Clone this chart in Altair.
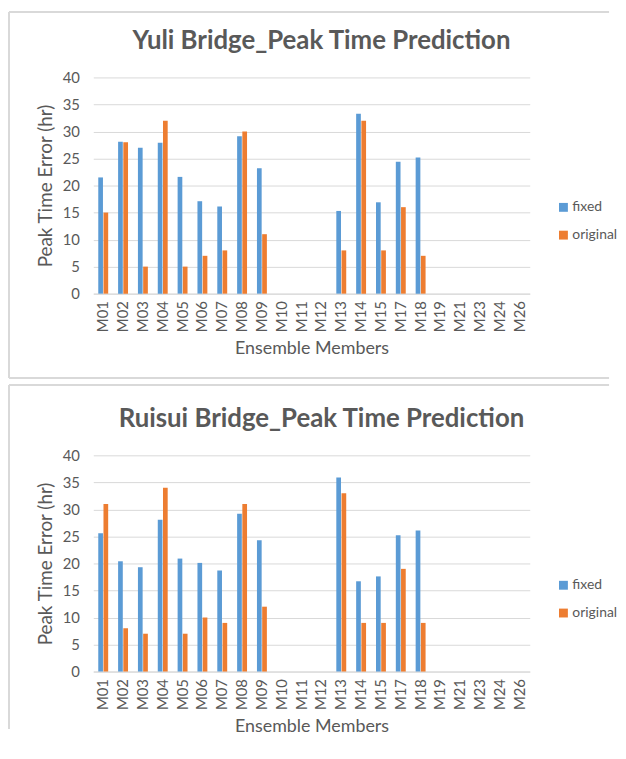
import altair as alt
import pandas as pd

members = ["M01", "M02", "M03", "M04", "M05", "M06", "M07", "M08", "M09", "M10",
           "M11", "M12", "M13", "M14", "M15", "M17", "M18", "M19", "M21", "M23",
           "M24", "M26"]
series = ["fixed", "original"]
colors = ["#5B9BD5", "#ED7D31"]
y_ticks = [0, 5, 10, 15, 20, 25, 30, 35, 40]

yuli_fixed = [21.5, 28.1, 27.0, 27.9, 21.6, 17.1, 16.1, 29.1, 23.2, None,
              None, None, 15.3, 33.3, 16.9, 24.4, 25.2, None, None, None,
              None, None]
yuli_original = [15, 28, 5, 32, 5, 7, 8, 30, 11, None,
                 None, None, 8, 32, 8, 16, 7, None, None, None,
                 None, None]
ruisui_fixed = [25.6, 20.4, 19.3, 28.1, 20.9, 20.1, 18.7, 29.2, 24.3, None,
                None, None, 35.9, 16.7, 17.6, 25.2, 26.1, None, None, None,
                None, None]
ruisui_original = [31, 8, 7, 34, 7, 10, 9, 31, 12, None,
                   None, None, 33, 9, 9, 19, 9, None, None, None,
                   None, None]

FONT = "Lato"
TXT = "#595959"
FRAME = "#D9D9D9"


def panel(title, fixed, original, frame_top, frame_bottom):
    df = pd.DataFrame({
        "member": members * 2,
        "series": [series[0]] * len(members) + [series[1]] * len(members),
        "value": fixed + original,
    })
    bars = alt.Chart(df).mark_bar().encode(
        x=alt.X("member:N", sort=members,
                scale=alt.Scale(domain=members, paddingInner=0.5, paddingOuter=0.25),
                axis=alt.Axis(title="Ensemble Members", labelAngle=-90, labelAlign="right",
                              labelBaseline="middle", labelPadding=7, ticks=False,
                              domain=True, domainColor=FRAME, labelFont=FONT,
                              labelFontSize=15, labelColor=TXT, titleFont=FONT,
                              titleFontSize=18, titleFontWeight="normal",
                              titleColor=TXT, titlePadding=8)),
        xOffset=alt.XOffset("series:N", scale=alt.Scale(domain=series, paddingInner=0.1)),
        y=alt.Y("value:Q", scale=alt.Scale(domain=[0, 40]),
                axis=alt.Axis(title="Peak Time Error (hr)", values=y_ticks, ticks=False,
                              domain=False, grid=True, gridColor=FRAME, labelFont=FONT,
                              labelFontSize=15, labelColor=TXT, labelPadding=14,
                              titleFont=FONT, titleFontSize=19, titleFontWeight="normal",
                              titleColor=TXT, titlePadding=7)),
        color=alt.Color("series:N", scale=alt.Scale(domain=series, range=colors),
                        legend=alt.Legend(title=None, orient="none", legendX=467,
                                          legendY=124, symbolType="square",
                                          symbolSize=80, symbolStrokeWidth=0,
                                          labelFont=FONT, labelFontSize=14,
                                          labelColor=TXT, rowPadding=14,
                                          labelOffset=2, padding=0)),
    )
    fdf = pd.DataFrame({"k": [0]})
    heading = alt.Chart(fdf).mark_text(
        text=title, font=FONT, fontSize=26, fontWeight="bold", color=TXT,
        align="center", baseline="middle",
    ).encode(x=alt.value(230), y=alt.value(-37))
    top = alt.Chart(fdf).mark_rule(color=FRAME, strokeWidth=2).encode(
        x=alt.value(-85), x2=alt.value(520), y=alt.value(frame_top))
    left = alt.Chart(fdf).mark_rule(color=FRAME, strokeWidth=2).encode(
        x=alt.value(-85), y=alt.value(frame_top), y2=alt.value(303 if frame_bottom else 276))
    layers = [bars, heading, top, left]
    if frame_bottom:
        bottom = alt.Chart(fdf).mark_rule(color=FRAME, strokeWidth=2).encode(
            x=alt.value(-85), x2=alt.value(520), y=alt.value(303))
        layers.append(bottom)
    return alt.layer(*layers).properties(width=440, height=218)


chart = alt.vconcat(
    panel("Yuli Bridge_Peak Time Prediction", yuli_fixed, yuli_original, -66, True),
    panel("Ruisui Bridge_Peak Time Prediction", ruisui_fixed, ruisui_original, -71, False),
    spacing=5,
).resolve_scale(color="independent").resolve_legend(color="independent").properties(
    padding=0
).configure_view(stroke=None)

chart.save("out.html", embed_options={"renderer": "svg", "actions": False})
